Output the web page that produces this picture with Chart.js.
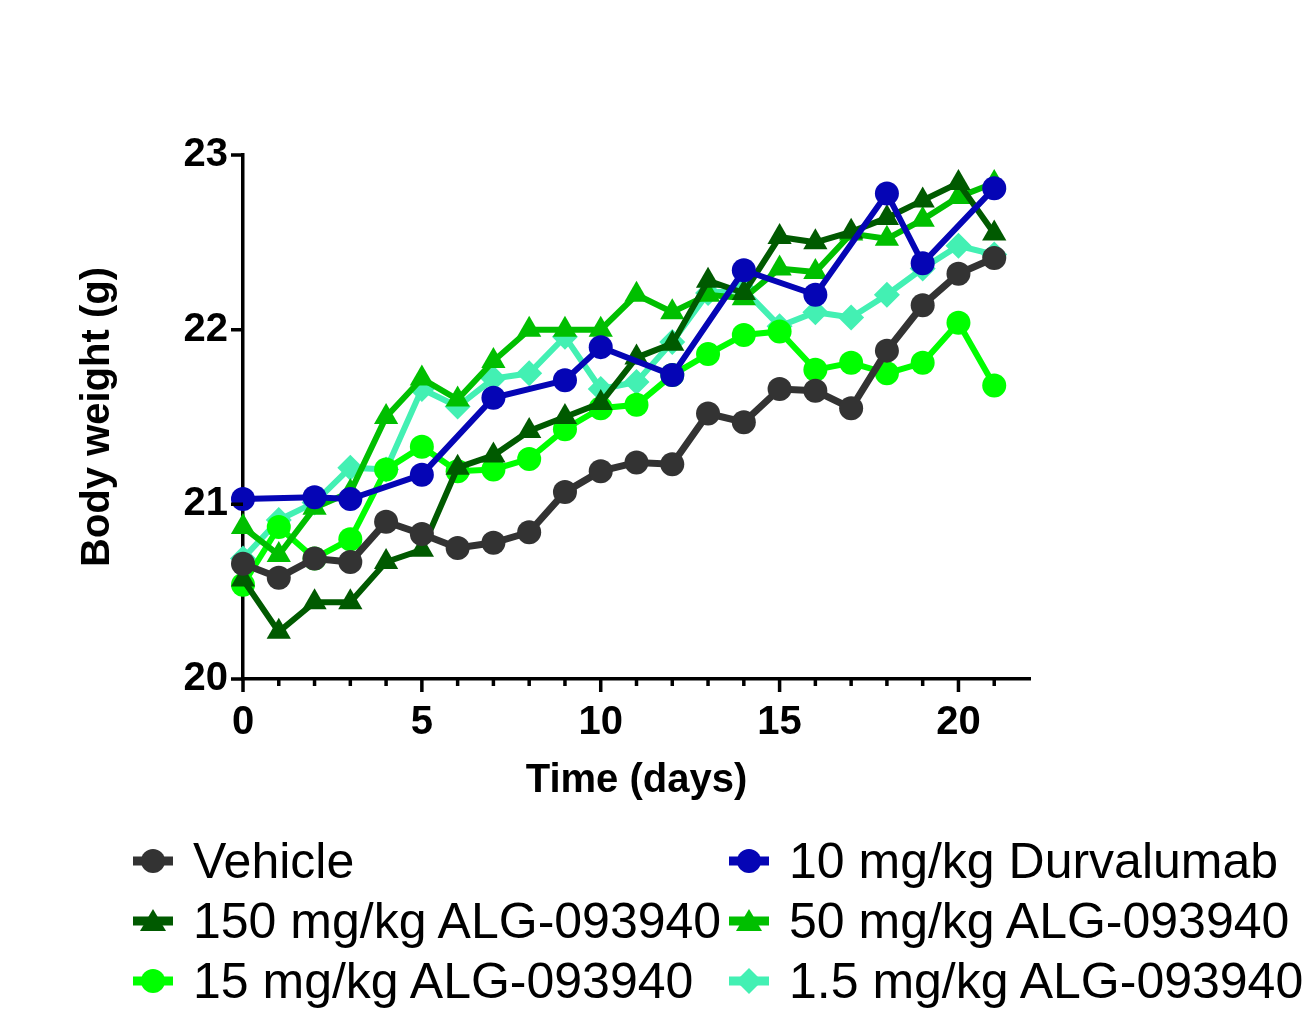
<!DOCTYPE html>
<html lang="en">
<head>
    <meta charset="UTF-8">
    <title>Body weight</title>
    <script src="https://cdn.jsdelivr.net/npm/chart.js"></script>
    <style>
        body { margin: 0; background: #fff; }
        #wrap { position: relative; width: 1303px; height: 1013px; }
        .legend-item {
            position: absolute;
            height: 60px;
            line-height: 60px;
            display: flex;
            align-items: center;
            font-family: 'Liberation Sans', Arial, sans-serif;
            font-size: 50px;
            color: #000;
            white-space: nowrap;
        }
        .legend-item svg { margin-right: 18px; }
    </style>
</head>
<body>
<div id="wrap">
    <canvas id="bwChart" width="1303" height="1013"></canvas>
</div>
<script>
    // data
    const days = [0, 1, 2, 3, 4, 5, 6, 7, 8, 9, 10, 11, 12, 13, 14, 15, 16, 17, 18, 19, 20, 21];
    const vehicle = [20.66, 20.58, 20.69, 20.67, 20.90, 20.83, 20.75, 20.78, 20.84, 21.07, 21.19, 21.24, 21.23, 21.52, 21.47, 21.66, 21.65, 21.55, 21.88, 22.14, 22.32, 22.41];
    const alg150 = [20.57, 20.27, 20.44, 20.44, 20.67, 20.74, 21.21, 21.28, 21.42, 21.50, 21.58, 21.84, 21.92, 22.28, 22.21, 22.53, 22.50, 22.56, 22.64, 22.74, 22.84, 22.55];
    const alg15 = [20.54, 20.87, 20.69, 20.80, 21.20, 21.33, 21.19, 21.20, 21.26, 21.43, 21.55, 21.57, 21.74, 21.86, 21.97, 21.99, 21.77, 21.81, 21.75, 21.81, 22.04, 21.68];
    const durvalumab = [21.03, null, 21.04, 21.03, null, 21.17, null, 21.61, null, 21.71, 21.90, null, 21.74, null, 22.34, null, 22.20, null, 22.78, 22.38, null, 22.81];
    const alg50 = [20.87, 20.71, 20.98, 21.07, 21.50, 21.72, 21.60, 21.82, 22.00, 22.00, 22.00, 22.20, 22.10, 22.20, 22.18, 22.35, 22.33, 22.55, 22.52, 22.63, 22.76, 22.84];
    const alg1_5 = [20.69, 20.91, 21.01, 21.21, 21.20, 21.66, 21.56, 21.72, 21.75, 21.96, 21.66, 21.70, 21.93, 22.21, 22.23, 22.02, 22.10, 22.07, 22.20, 22.35, 22.48, 22.43];

    const yTicks = [20, 21, 22, 23];
    const xTickLabels = [0, 5, 10, 15, 20];

    // legend order (column by column, like the figure)
    const names = ['Vehicle', '150 mg/kg ALG-093940', '15 mg/kg ALG-093940',
                   '10 mg/kg Durvalumab', '50 mg/kg ALG-093940', '1.5 mg/kg ALG-093940'];
    const values = [vehicle, alg150, alg15, durvalumab, alg50, alg1_5];
    const colors = ['#333333', '#005a00', '#00ff00', '#0505b5', '#00bf00', '#43f0b3'];
    const markers = ['circle', 'triangle', 'circle', 'circle', 'triangle', 'rectRot'];
    const drawOrder = [1, 2, 4, 0, 3, 5];

    const font = "'Liberation Sans', Arial, sans-serif";

    const datasets = names.map((n, i) => ({
        label: n,
        data: days.map((d, j) => ({ x: d, y: values[i][j] })),
        borderColor: colors[i],
        backgroundColor: colors[i],
        borderWidth: i === 0 ? 7 : 6,
        pointStyle: markers[i],
        pointRadius: markers[i] === 'triangle' ? 14 : (markers[i] === 'rectRot' ? 13 : 12),
        pointBorderWidth: 0,
        spanGaps: true,
        tension: 0,
        clip: false,
        order: drawOrder[i]
    }));

    // axis tick marks: long at labelled days, short otherwise
    const tickMarks = {
        id: 'tickMarks',
        afterDraw(chart) {
            const { ctx, scales: { x, y } } = chart;
            ctx.save();
            ctx.strokeStyle = '#000';
            ctx.lineWidth = 3.5;
            ctx.beginPath();
            days.forEach(d => {
                const px = x.getPixelForValue(d);
                const len = d % 5 === 0 ? 13 : 7;
                ctx.moveTo(px, y.bottom);
                ctx.lineTo(px, y.bottom + len);
            });
            yTicks.forEach(v => {
                const py = y.getPixelForValue(v);
                ctx.moveTo(x.left - 12, py);
                ctx.lineTo(x.left, py);
            });
            ctx.stroke();
            ctx.restore();
        }
    };

    new Chart(document.getElementById('bwChart'), {
        type: 'line',
        data: { datasets: datasets },
        options: {
            responsive: false,
            animation: false,
            layout: { padding: { top: 155, right: 273, left: 0, bottom: 0 } },
            plugins: { legend: { display: false }, tooltip: { enabled: false } },
            scales: {
                x: {
                    type: 'linear',
                    min: 0,
                    max: 22,
                    afterFit: s => { s.height = 334; },
                    border: { display: true, color: '#000', width: 3.5 },
                    grid: { display: false, drawTicks: false },
                    ticks: {
                        stepSize: 1,
                        autoSkip: false,
                        maxRotation: 0,
                        padding: 20,
                        color: '#000',
                        font: { family: font, size: 40, weight: 'bold' },
                        callback: v => xTickLabels.includes(v) ? String(v) : ''
                    },
                    title: {
                        display: true,
                        text: 'Time (days)',
                        color: '#000',
                        font: { family: font, size: 40, weight: 'bold' },
                        padding: { bottom: 208 }
                    }
                },
                y: {
                    min: 20,
                    max: 23,
                    afterFit: s => { s.width = 243; },
                    border: { display: true, color: '#000', width: 3.5 },
                    grid: { display: false, drawTicks: false },
                    ticks: {
                        stepSize: 1,
                        padding: 15,
                        color: '#000',
                        font: { family: font, size: 40, weight: 'bold' }
                    },
                    title: {
                        display: true,
                        text: 'Body weight (g)',
                        color: '#000',
                        font: { family: font, size: 40, weight: 'bold' },
                        padding: { top: 74 }
                    }
                }
            }
        },
        plugins: [tickMarks]
    });

    // legend in two columns under the chart
    function markerSvg(style, color) {
        let shape;
        if (style === 'triangle') shape = `<polygon points="22,3 35,25 9,25" fill="${color}"/>`;
        else if (style === 'rectRot') shape = `<polygon points="22,2 35,15 22,28 9,15" fill="${color}"/>`;
        else shape = `<circle cx="22" cy="15" r="12" fill="${color}"/>`;
        return `<svg width="44" height="30" viewBox="0 0 44 30">
            <line x1="2" y1="15" x2="42" y2="15" stroke="${color}" stroke-width="9"/>${shape}</svg>`;
    }
    const wrap = document.getElementById('wrap');
    const colLeft = [131, 727];
    const rowTop = [831, 891, 951];
    names.forEach((n, i) => {
        const item = document.createElement('div');
        item.className = 'legend-item';
        item.style.left = colLeft[Math.floor(i / 3)] + 'px';
        item.style.top = rowTop[i % 3] + 'px';
        item.innerHTML = markerSvg(markers[i], colors[i]) + '<span>' + n + '</span>';
        wrap.appendChild(item);
    });
</script>
</body>
</html>
